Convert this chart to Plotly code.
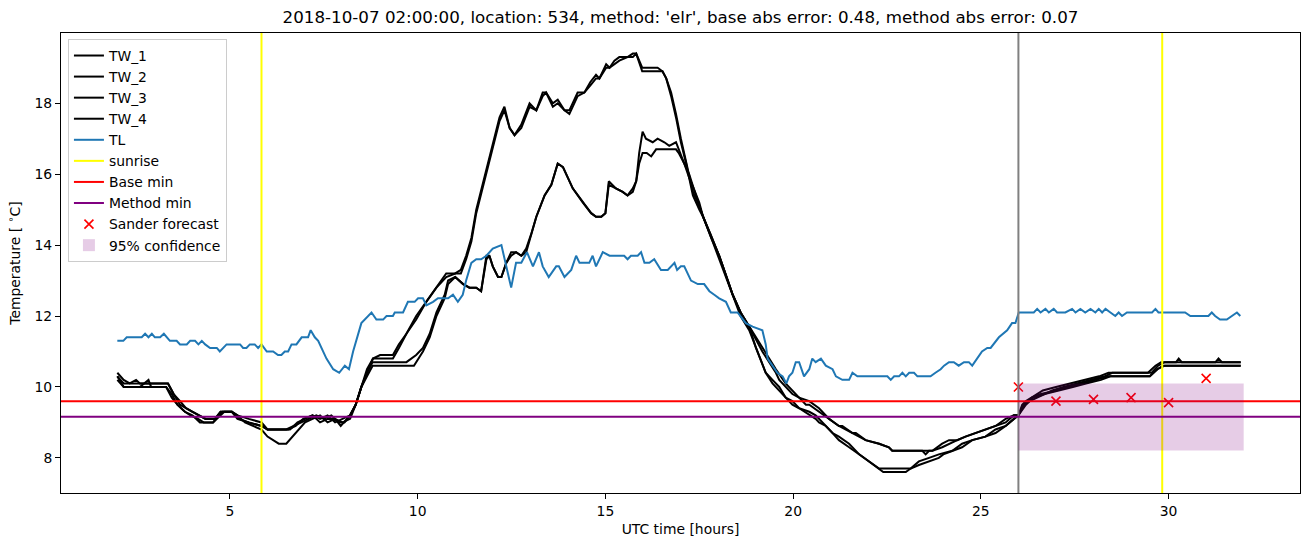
import plotly.graph_objects as go

# ---------------- data (hours since 2018-10-07 00:00 UTC, temperature in deg C) ----------------
tw1_points = [(2.0,10.4),(2.17,10.2),(2.33,10.1),(2.5,10.2),(2.6,10.1),(3.35,10.1),(3.5,9.8),(3.67,9.5),(3.83,9.4),
    (4.0,9.3),(4.17,9.2),(4.35,9.1),(4.6,9.1),(4.75,9.3),(5.05,9.3),(5.2,9.2),(5.4,9.0),(5.6,8.9),(5.84,8.8),(6.0,8.6),
    (6.17,8.5),(6.3,8.4),(6.5,8.4),(6.67,8.6),(6.83,8.8),(7.0,9.0),(7.2,9.1),(7.4,9.2),(7.6,9.0),(7.8,9.1),(7.95,8.9),
    (8.1,9.1),(8.2,9.2),(8.35,9.5),(8.5,10.0),(8.65,10.4),(8.81,10.8),(9.0,10.9),(9.34,10.9),(9.5,11.2),(9.7,11.5),
    (9.96,12.0),(10.23,12.4),(10.5,12.8),(10.76,13.2),(11.0,13.2),(11.15,13.3),(11.29,13.7),(11.43,14.2),(11.56,15.0),
    (11.7,15.6),(11.83,16.1),(12.0,16.9),(12.09,17.3),(12.18,17.6),(12.31,17.9),(12.45,17.3),(12.58,17.1),(12.76,17.4),
    (12.98,18.0),(13.16,17.8),(13.33,18.3),(13.42,18.3),(13.6,18.0),(13.73,18.1),(13.91,17.8),(14.04,17.8),(14.26,18.3),
    (14.44,18.3),(14.6,18.6),(14.75,18.8),(14.84,18.7),(15.02,19.1),(15.11,19.0),(15.24,19.2),(15.37,19.3),(15.59,19.3),
    (15.73,19.4),(15.82,19.4),(15.98,19.0),(16.39,19.0),(16.52,18.9),(16.62,18.7),(16.75,18.3),(16.88,17.7),(17.01,17.0),
    (17.15,16.3),(17.33,15.5),(17.5,15.1),(17.6,14.8),(17.82,14.2),(18.03,13.7),(18.26,13.0),(18.39,12.6),(18.6,12.1),
    (18.83,11.7),(19.01,11.1),(19.27,10.4),(19.45,10.2),(19.63,10.0),(19.8,9.7),(19.98,9.6),(20.16,9.4),(20.43,9.3),
    (20.6,9.2),(20.69,9.1),(20.87,8.9),(21.05,8.7),(21.22,8.6),(21.49,8.4),(21.76,8.1),(22.02,7.9),(22.29,7.7),(22.4,7.6),
    (23.0,7.6),(23.13,7.7),(23.35,7.8),(23.62,7.9),(23.88,8.0),(24.0,8.1),(24.24,8.2),(24.5,8.3),(24.77,8.5),(25.12,8.6),
    (25.39,8.7),(25.66,8.9),(25.88,9.1),(26.0,9.2),(26.1,9.5),(26.2,9.6),(26.35,9.7),(26.5,9.8),(26.65,9.9),(27.0,10.0),
    (27.4,10.1),(27.8,10.2),(28.15,10.3),(28.4,10.4),(29.45,10.4),(29.65,10.6),(29.8,10.7),(30.2,10.7),(30.27,10.8),
    (30.35,10.7),(31.25,10.7),(31.33,10.8),(31.42,10.7),(31.92,10.7)]

tw2_points = [(2.0,10.3),(2.17,10.1),(3.35,10.1),(3.5,9.8),(3.67,9.6),(3.83,9.4),(4.0,9.3),(4.17,9.2),(4.35,9.1),
    (4.6,9.1),(4.75,9.3),(5.05,9.3),(5.2,9.2),(5.5,9.1),(5.84,9.0),(6.0,8.8),(6.6,8.8),(6.8,9.0),(7.0,9.1),(7.2,9.2),
    (7.4,9.1),(7.6,9.2),(7.8,9.0),(8.0,9.1),(8.2,9.2),(8.35,9.5),(8.5,10.0),(8.65,10.5),(8.81,10.8),(9.34,10.8),
    (9.5,11.1),(9.7,11.5),(9.96,11.9),(10.23,12.4),(10.5,12.8),(10.76,13.1),(11.0,13.2),(11.15,13.2),(11.29,13.6),
    (11.43,14.1),(11.56,14.9),(11.7,15.5),(11.83,16.0),(12.0,16.8),(12.09,17.2),(12.18,17.5),(12.31,17.8),(12.45,17.3),
    (12.58,17.1),(12.76,17.3),(12.98,17.9),(13.16,17.8),(13.33,18.2),(13.42,18.3),(13.6,17.9),(13.73,18.0),(13.91,17.8),
    (14.04,17.7),(14.26,18.2),(14.44,18.3),(14.6,18.5),(14.75,18.7),(14.84,18.7),(15.02,19.0),(15.11,19.0),(15.24,19.1),
    (15.37,19.2),(15.59,19.3),(15.73,19.3),(15.82,19.4),(15.98,18.9),(16.39,18.9),(16.52,18.9),(16.62,18.7),(16.75,18.2),
    (16.88,17.6),(17.01,16.9),(17.15,16.3),(17.33,15.4),(17.5,15.0),(17.6,14.8),(17.82,14.2),(18.03,13.6),(18.26,13.0),
    (18.39,12.6),(18.6,12.0),(18.83,11.6),(19.01,11.1),(19.27,10.4),(19.45,10.1),(19.63,9.9),(19.8,9.7),(19.98,9.5),
    (20.16,9.4),(20.43,9.2),(20.6,9.1),(20.69,9.0),(20.87,8.9),(21.05,8.7),(21.22,8.5),(21.49,8.3),(21.76,8.1),
    (22.02,7.9),(22.29,7.7),(23.13,7.7),(23.35,7.9),(23.62,8.0),(23.88,8.1),(24.24,8.2),(24.5,8.4),(24.77,8.5),
    (25.12,8.6),(25.39,8.8),(25.66,8.9),(25.88,9.1),(26.0,9.2),(26.15,9.5),(26.3,9.6),(26.5,9.7),(26.7,9.8),(26.9,9.9),
    (27.2,10.0),(27.55,10.1),(27.95,10.2),(28.3,10.3),(28.5,10.4),(29.55,10.4),(29.72,10.6),(29.9,10.7),(31.92,10.7)]

tw3_points = [(2.0,10.3),(2.17,10.0),(2.6,10.0),(2.83,10.2),(2.9,10.0),(3.3,10.0),(3.45,9.8),(3.6,9.5),(3.8,9.3),
    (4.0,9.2),(4.2,9.0),(4.55,9.0),(4.7,9.2),(4.8,9.3),(5.05,9.3),(5.2,9.1),(5.5,9.0),(5.84,8.9),(6.0,8.8),(6.5,8.8),
    (6.7,8.9),(6.9,9.0),(7.1,9.1),(7.3,9.2),(7.5,9.1),(7.7,9.2),(7.9,9.0),(8.05,9.0),(8.2,9.2),(8.35,9.5),(8.5,10.0),
    (8.65,10.4),(8.8,10.7),(9.4,10.7),(9.7,10.7),(9.96,10.9),(10.14,11.1),(10.32,11.5),(10.5,12.1),(10.72,12.6),
    (10.81,13.0),(11.0,13.1),(11.21,12.9),(11.38,12.8),(11.56,12.8),(11.69,12.7),(11.83,13.7),(11.91,13.7),(12.0,13.4),
    (12.14,13.1),(12.23,13.1),(12.36,13.5),(12.49,13.8),(12.62,13.8),(12.76,13.7),(12.89,13.9),(13.02,14.3),(13.16,14.8),
    (13.38,15.4),(13.56,15.7),(13.73,16.3),(13.87,16.2),(14.13,15.6),(14.4,15.2),(14.62,14.9),(14.75,14.8),(14.89,14.8),
    (15.0,14.9),(15.09,15.8),(15.28,15.6),(15.46,15.5),(15.59,15.4),(15.73,15.6),(15.82,15.8),(15.9,16.6),(15.99,17.2),
    (16.08,17.0),(16.26,16.9),(16.39,17.0),(16.57,16.9),(16.7,16.8),(16.88,16.9),(16.95,16.7),(17.1,16.3),(17.23,16.0),
    (17.35,15.6),(17.5,15.2),(17.6,14.8),(17.8,14.3),(18.03,13.7),(18.26,13.0),(18.39,12.6),(18.6,12.1),(18.83,11.7),
    (19.18,11.0),(19.36,10.7),(19.54,10.4),(19.63,10.2),(19.8,10.0),(19.98,9.8),(20.16,9.7),(20.34,9.5),(20.43,9.5),
    (20.69,9.3),(20.96,9.1),(21.22,8.9),(21.31,8.9),(21.58,8.7),(21.67,8.7),(21.93,8.5),(22.29,8.4),(22.55,8.3),
    (22.64,8.2),(23.44,8.2),(23.53,8.1),(23.62,8.2),(23.71,8.2),(23.97,8.4),(24.15,8.5),(24.37,8.5),(24.59,8.6),
    (24.86,8.7),(25.12,8.8),(25.39,8.9),(25.66,9.1),(25.88,9.2),(26.0,9.2),(26.15,9.5),(26.35,9.7),(26.6,9.8),
    (27.0,9.9),(27.3,10.0),(27.7,10.1),(28.05,10.2),(28.4,10.3),(29.5,10.3),(29.7,10.5),(29.85,10.6),(31.92,10.6)]

tw4_points = [(2.0,10.2),(2.17,10.0),(3.3,10.0),(3.45,9.7),(3.6,9.5),(3.8,9.3),(3.95,9.2),(4.15,9.1),(4.3,9.0),
    (4.55,9.0),(4.75,9.2),(4.85,9.3),(5.05,9.3),(5.25,9.1),(5.5,9.0),(5.84,8.9),(6.0,8.8),(6.55,8.8),(6.75,8.9),
    (6.95,9.1),(7.2,9.2),(7.4,9.0),(7.6,9.1),(7.8,9.1),(8.0,9.0),(8.2,9.1),(8.35,9.5),(8.5,10.0),(8.65,10.3),(8.8,10.6),
    (9.9,10.6),(10.14,11.0),(10.32,11.4),(10.5,12.0),(10.72,12.5),(10.81,12.9),(11.0,13.1),(11.21,12.9),(11.38,12.8),
    (11.56,12.8),(11.69,12.7),(11.83,13.6),(11.91,13.7),(12.0,13.4),(12.14,13.1),(12.23,13.1),(12.36,13.5),(12.49,13.7),
    (12.62,13.8),(12.76,13.7),(12.89,13.8),(13.02,14.3),(13.16,14.8),(13.38,15.4),(13.56,15.7),(13.73,16.3),(13.87,16.2),
    (14.13,15.6),(14.4,15.2),(14.62,14.9),(14.75,14.8),(14.89,14.8),(15.0,14.9),(15.09,15.7),(15.28,15.6),(15.46,15.5),
    (15.59,15.4),(15.73,15.5),(15.82,15.8),(15.9,16.3),(15.99,16.6),(16.1,16.6),(16.22,16.5),(16.35,16.7),(16.88,16.7),
    (16.95,16.6),(17.1,16.3),(17.23,15.9),(17.35,15.6),(17.5,15.1),(17.6,14.8),(17.8,14.3),(18.03,13.7),(18.26,13.0),
    (18.39,12.6),(18.6,12.1),(18.83,11.7),(19.18,11.1),(19.36,10.8),(19.54,10.5),(19.8,10.1),(19.98,9.9),(20.16,9.7),
    (20.43,9.6),(20.69,9.4),(20.96,9.1),(21.22,8.9),(21.58,8.7),(21.93,8.5),(22.29,8.4),(22.55,8.3),(22.64,8.2),
    (23.5,8.2),(23.71,8.2),(23.97,8.3),(24.15,8.4),(24.37,8.5),(24.59,8.6),(24.86,8.7),(25.12,8.8),(25.39,8.9),
    (25.66,9.0),(25.88,9.2),(26.0,9.2),(26.2,9.5),(26.4,9.7),(26.7,9.8),(27.1,9.9),(27.45,10.0),(27.8,10.1),(28.2,10.2),
    (28.45,10.3),(29.5,10.3),(29.7,10.5),(29.9,10.6),(31.92,10.6)]

tl_points = [(2.0,11.3),(2.16,11.3),(2.25,11.4),(2.65,11.4),(2.74,11.5),(2.83,11.4),(2.92,11.5),(3.0,11.4),(3.14,11.4),
    (3.24,11.5),(3.40,11.3),(3.58,11.3),(3.67,11.2),(3.85,11.2),(3.94,11.3),(4.07,11.3),(4.16,11.2),(4.25,11.3),(4.34,11.2),
    (4.47,11.1),(4.65,11.1),(4.73,11.0),(4.91,11.2),(5.27,11.2),(5.35,11.1),(5.44,11.1),(5.53,11.2),(5.66,11.2),(5.75,11.1),
    (5.84,11.2),(5.98,11.0),(6.15,11.0),(6.28,10.9),(6.37,10.9),(6.46,11.0),(6.55,11.0),(6.64,11.2),(6.77,11.2),(6.91,11.4),
    (7.08,11.4),(7.15,11.6),(7.26,11.4),(7.35,11.3),(7.57,10.8),(7.75,10.5),(7.91,10.4),(8.06,10.6),(8.17,10.5),(8.28,11.0),
    (8.50,11.8),(8.77,12.1),(8.90,11.9),(9.08,11.9),(9.17,12.0),(9.34,12.0),(9.39,12.1),(9.61,12.1),(9.74,12.4),(9.92,12.4),
    (10.01,12.5),(10.14,12.5),(10.23,12.3),(10.41,12.4),(10.54,12.5),(10.81,12.5),(10.94,12.6),(11.07,12.4),(11.20,12.6),
    (11.29,13.0),(11.43,13.5),(11.56,13.6),(11.69,13.6),(11.83,13.7),(12.0,13.9),(12.23,14.0),(12.31,13.6),(12.49,12.8),
    (12.62,13.5),(12.76,13.5),(12.91,13.8),(13.07,13.4),(13.23,13.8),(13.33,13.4),(13.49,13.1),(13.69,13.4),(13.76,13.4),
    (13.91,13.1),(14.09,13.3),(14.22,13.7),(14.31,13.5),(14.57,13.5),(14.66,13.7),(14.75,13.4),(14.93,13.8),(15.11,13.7),
    (15.50,13.7),(15.59,13.6),(15.68,13.7),(15.86,13.7),(15.95,13.8),(16.04,13.5),(16.17,13.5),(16.30,13.6),(16.48,13.3),
    (16.66,13.3),(16.84,13.5),(16.91,13.3),(17.01,13.4),(17.10,13.4),(17.28,13.0),(17.46,12.9),(17.63,12.9),(17.77,12.7),
    (17.90,12.6),(18.03,12.5),(18.21,12.4),(18.34,12.1),(18.52,12.1),(18.74,11.8),(18.92,11.7),(19.18,11.6),(19.27,11.2),
    (19.32,10.8),(19.45,10.6),(19.58,10.4),(19.72,10.3),(19.82,10.1),(19.89,10.3),(19.98,10.4),(20.07,10.7),(20.16,10.7),
    (20.29,10.3),(20.43,10.5),(20.51,10.8),(20.60,10.7),(20.74,10.8),(20.87,10.6),(21.05,10.5),(21.14,10.3),(21.31,10.2),
    (21.49,10.2),(21.58,10.4),(21.71,10.3),(22.51,10.3),(22.60,10.2),(22.69,10.3),(22.82,10.3),(22.91,10.4),(23.0,10.3),
    (23.09,10.4),(23.22,10.4),(23.31,10.3),(23.66,10.3),(23.79,10.4),(23.93,10.5),(24.02,10.6),(24.15,10.7),(24.28,10.7),
    (24.41,10.6),(24.55,10.7),(24.68,10.7),(24.77,10.6),(24.90,10.8),(25.03,11.0),(25.17,11.1),(25.26,11.1),(25.48,11.4),
    (25.70,11.6),(25.83,11.8),(25.92,11.8),(26.01,12.1),(26.41,12.1),(26.50,12.2),(26.59,12.1),(26.72,12.2),(26.81,12.1),
    (26.94,12.2),(27.03,12.1),(27.25,12.1),(27.43,12.2),(27.52,12.1),(27.65,12.2),(27.78,12.1),(27.92,12.2),(28.05,12.1),
    (28.14,12.2),(28.23,12.1),(28.32,12.2),(28.45,12.1),(28.58,12.0),(28.67,12.1),(28.76,12.0),(28.89,12.1),(29.56,12.1),
    (29.65,12.2),(29.73,12.1),(30.44,12.1),(30.58,12.0),(31.06,12.0),(31.15,12.1),(31.24,12.0),(31.37,11.9),(31.55,11.9),
    (31.68,12.0),(31.82,12.1),(31.91,12.0)]

sander_hours = [26, 27, 28, 29, 30, 31]
sander_temp = [10.0, 9.6, 9.65, 9.7, 9.56, 10.24]

sunrise_hours = [5.84, 29.83]
forecast_start = 26.0
base_min = 9.6
method_min = 9.16
conf_hours = [26.0, 32.0]
conf_temp = [8.21, 10.10]

title_text = "2018-10-07 02:00:00, location: 534, method: 'elr', base abs error: 0.48, method abs error: 0.07"

# ---------------- figure ----------------
FONT = "DejaVu Sans"
fig = go.Figure()

series = [("TW_1", tw1_points, "black"), ("TW_2", tw2_points, "black"), ("TW_3", tw3_points, "black"),
          ("TW_4", tw4_points, "black"), ("TL", tl_points, "#1f77b4")]
for rank, (name, pts, col) in enumerate(series, start=1):
    xs = [p[0] for p in pts]
    ys = [p[1] for p in pts]
    fig.add_trace(go.Scatter(x=xs, y=ys, mode="lines", name=name, legendrank=rank,
                             line=dict(color=col, width=2)))

fig.add_trace(go.Scatter(x=sander_hours, y=sander_temp, mode="markers", name="Sander forecast",
                         legendrank=9,
                         marker=dict(symbol="x-thin", size=9, color="red",
                                     line=dict(color="red", width=1.6))))

shapes = []
shapes.append(dict(type="line", xref="x", yref="paper", x0=forecast_start, x1=forecast_start, y0=0, y1=1,
                   line=dict(color="gray", width=2), layer="above"))
for i, s in enumerate(sunrise_hours):
    shapes.append(dict(type="line", xref="x", yref="paper", x0=s, x1=s, y0=0, y1=1,
                       line=dict(color="yellow", width=2), layer="above",
                       showlegend=(i == 0), name="sunrise", legendrank=6, legendgroup="sunrise"))
shapes.append(dict(type="line", xref="paper", yref="y", x0=0, x1=1, y0=base_min, y1=base_min,
                   line=dict(color="red", width=2), layer="above", showlegend=True, name="Base min", legendrank=7))
shapes.append(dict(type="line", xref="paper", yref="y", x0=0, x1=1, y0=method_min, y1=method_min,
                   line=dict(color="purple", width=2), layer="above", showlegend=True, name="Method min", legendrank=8))
shapes.append(dict(type="rect", xref="x", yref="y", x0=conf_hours[0], x1=conf_hours[1], y0=conf_temp[0], y1=conf_temp[1],
                   fillcolor="rgba(128,0,128,0.2)", line=dict(width=0), layer="above",
                   showlegend=True, name="95% confidence", legendrank=10))

axis_common = dict(showline=True, linecolor="black", linewidth=1, mirror=True, ticks="outside", ticklen=5,
                   tickwidth=1, tickcolor="black", showgrid=False, zeroline=False,
                   tickfont=dict(family=FONT, size=13.9, color="black"))

fig.update_layout(
    width=1311, height=547,
    margin=dict(l=61, r=11, t=33, b=54),
    paper_bgcolor="white", plot_bgcolor="white",
    font=dict(family=FONT, color="black", size=13.9),
    shapes=shapes,
    title=dict(text=title_text, x=0.5, xref="paper", xanchor="center", y=1 - 17 / 547, yref="container",
               yanchor="middle", font=dict(family=FONT, size=16.7, color="black")),
    xaxis=dict(range=[0.5, 33.5], tickvals=[5, 10, 15, 20, 25, 30],
               title=dict(text="UTC time [hours]", font=dict(family=FONT, size=13.9), standoff=6),
               **axis_common),
    yaxis=dict(range=[7.01, 19.98], tickvals=[8, 10, 12, 14, 16, 18],
               title=dict(text="Temperature [ <sup>∘</sup>C]", font=dict(family=FONT, size=13.9), standoff=10),
               **axis_common),
    legend=dict(x=0.0056, y=0.987, xanchor="left", yanchor="top", bgcolor="rgba(255,255,255,0.8)",
                bordercolor="#cccccc", borderwidth=1, font=dict(family=FONT, size=13.9, color="black"),
                traceorder="normal"),
    showlegend=True,
)

fig.write_html("out.html")
